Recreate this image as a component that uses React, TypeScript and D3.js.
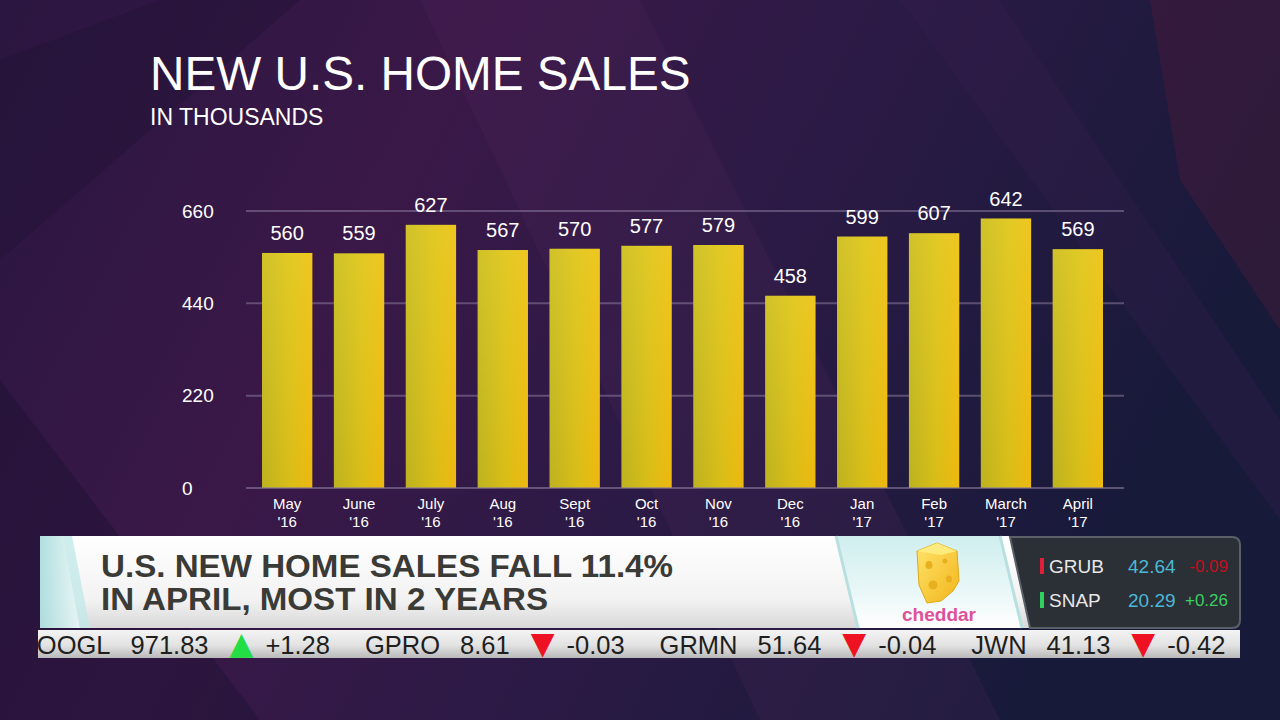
import React from 'react';
import * as d3 from 'd3';

// chart values
const months = ['May', 'June', 'July', 'Aug', 'Sept', 'Oct', 'Nov', 'Dec', 'Jan', 'Feb', 'March', 'April'];
const years = ["'16", "'16", "'16", "'16", "'16", "'16", "'16", "'16", "'17", "'17", "'17", "'17"];
const sales = [560, 559, 627, 567, 570, 577, 579, 458, 599, 607, 642, 569];
const yTicks = [0, 220, 440, 660];

// lower third
const headline = ['U.S. NEW HOME SALES FALL 11.4%', 'IN APRIL, MOST IN 2 YEARS'];
const headlineWidths = [572, 447];
const sideSymbols = ['GRUB', 'SNAP'];
const sidePrices = ['42.64', '20.29'];
const sideChanges = ['-0.09', '+0.26'];

// ticker crawl
const tickSymbols = ['GOOGL', 'GPRO', 'GRMN', 'JWN'];
const tickPrices = ['971.83', '8.61', '51.64', '41.13'];
const tickChanges = ['+1.28', '-0.03', '-0.04', '-0.42'];

const W = 1280;
const H = 720;
const FONT = '"Liberation Sans", Arial, Helvetica, sans-serif';

const App = () => {
    const x = d3.scaleBand<string>()
        .domain(months)
        .range([262, 1103])
        .paddingInner(0.3)
        .paddingOuter(0);

    const y = d3.scaleLinear()
        .domain([0, 660])
        .range([488, 211]);

    const gridLeft = 246;
    const gridRight = 1124;

    return (
        <div style={{ position: 'fixed', left: 0, top: 0, width: W, height: H, overflow: 'hidden' }}>
            <svg width={W} height={H} style={{ display: 'block' }}>
                <defs>
                    <linearGradient id="bg" x1="0" y1="0" x2="1" y2="0.3">
                        <stop offset="0%" stopColor="#2a1640" />
                        <stop offset="35%" stopColor="#3a1848" />
                        <stop offset="65%" stopColor="#2b1a45" />
                        <stop offset="100%" stopColor="#181a3a" />
                    </linearGradient>
                    <linearGradient id="barH" x1="0" y1="0" x2="1" y2="0">
                        <stop offset="0%" stopColor="#bdb21f" />
                        <stop offset="55%" stopColor="#d9bd17" />
                        <stop offset="100%" stopColor="#eeb80f" />
                    </linearGradient>
                    <linearGradient id="barV" x1="0" y1="0" x2="0" y2="1">
                        <stop offset="0%" stopColor="#f2e040" stopOpacity="0.35" />
                        <stop offset="100%" stopColor="#f2e040" stopOpacity="0" />
                    </linearGradient>
                    <linearGradient id="banner" x1="0" y1="0" x2="0" y2="1">
                        <stop offset="0%" stopColor="#ffffff" />
                        <stop offset="70%" stopColor="#f2f2f2" />
                        <stop offset="100%" stopColor="#d8d8d8" />
                    </linearGradient>
                    <linearGradient id="bevel" x1="0" y1="0" x2="1" y2="0">
                        <stop offset="0%" stopColor="#a9dcdc" />
                        <stop offset="100%" stopColor="#e8f6f6" />
                    </linearGradient>
                    <linearGradient id="logoPanel" x1="0" y1="0" x2="0" y2="1">
                        <stop offset="0%" stopColor="#cfeeee" />
                        <stop offset="60%" stopColor="#e9f7f7" />
                        <stop offset="100%" stopColor="#ffffff" />
                    </linearGradient>
                    <linearGradient id="ticker" x1="0" y1="0" x2="0" y2="1">
                        <stop offset="0%" stopColor="#f4f4f4" />
                        <stop offset="55%" stopColor="#e2e2e2" />
                        <stop offset="100%" stopColor="#b9b9b9" />
                    </linearGradient>
                    <linearGradient id="cheese" x1="0" y1="0" x2="1" y2="1">
                        <stop offset="0%" stopColor="#ffe46a" />
                        <stop offset="100%" stopColor="#f2b51c" />
                    </linearGradient>
                    <clipPath id="tickClip">
                        <rect x={38} y={630} width={1202} height={28} />
                    </clipPath>
                </defs>

                {/* background */}
                <rect x={0} y={0} width={W} height={H} fill="url(#bg)" />
                <polygon points="420,0 640,0 1000,720 760,720" fill="#5a2a60" opacity={0.18} />
                <polygon points="0,60 160,0 300,0 0,260" fill="#1e1030" opacity={0.35} />
                <polygon points="1150,0 1280,0 1280,330 1180,180" fill="#5a1c3a" opacity={0.35} />
                <polygon points="900,0 1000,0 1280,420 1280,520" fill="#3a2050" opacity={0.25} />
                <polygon points="0,380 0,720 260,720" fill="#1a1230" opacity={0.4} />

                {/* title */}
                <text x={150} y={90} fill="#ffffff" fontFamily={FONT} fontSize={47.7}>NEW U.S. HOME SALES</text>
                <text x={150} y={125} fill="#ffffff" fontFamily={FONT} fontSize={23}>IN THOUSANDS</text>

                {/* grid */}
                {yTicks.map(t => (
                    <g key={t}>
                        {t > 0 && (
                            <line x1={gridLeft} x2={gridRight} y1={y(t)} y2={y(t)}
                                stroke="#8a7a9a" strokeOpacity={0.55} strokeWidth={2} />
                        )}
                        <text x={182} y={y(t)} dy="0.35em" fill="#ffffff"
                            fontFamily={FONT} fontSize={19}>{t}</text>
                    </g>
                ))}

                {/* bars */}
                {months.map((m, i) => (
                    <g key={m}>
                        <rect x={x(m)} y={y(sales[i])} width={x.bandwidth()}
                            height={y(0) - y(sales[i])} fill="url(#barH)" />
                        <rect x={x(m)} y={y(sales[i])} width={x.bandwidth()}
                            height={y(0) - y(sales[i])} fill="url(#barV)" />
                        <text x={(x(m) || 0) + x.bandwidth() / 2} y={y(sales[i]) - 13}
                            textAnchor="middle" fill="#ffffff" fontFamily={FONT} fontSize={20}>{sales[i]}</text>
                        <text x={(x(m) || 0) + x.bandwidth() / 2} y={509}
                            textAnchor="middle" fill="#ffffff" fontFamily={FONT} fontSize={15}>{m}</text>
                        <text x={(x(m) || 0) + x.bandwidth() / 2} y={527}
                            textAnchor="middle" fill="#ffffff" fontFamily={FONT} fontSize={15}>{years[i]}</text>
                    </g>
                ))}
                <line x1={gridLeft} x2={gridRight} y1={y(0)} y2={y(0)}
                    stroke="#8a7a9a" strokeOpacity={0.6} strokeWidth={2} />

                {/* lower third banner */}
                <rect x={40} y={536} width={1000} height={92} fill="url(#banner)" />
                <polygon points="40,536 62,536 80,628 40,628" fill="url(#bevel)" opacity={0.9} />
                <polygon points="62,536 72,536 90,628 80,628" fill="#c4e8e8" opacity={0.8} />
                {headline.map((line, i) => (
                    <text key={line} x={101} y={577 + i * 33} fill="#3a3a37" fontFamily={FONT}
                        fontWeight="bold" fontSize={31} textLength={headlineWidths[i]}
                        lengthAdjust="spacingAndGlyphs">{line}</text>
                ))}

                {/* logo panel */}
                <polygon points="836,536 1000,536 1022,628 858,628" fill="url(#logoPanel)" />
                <line x1={836} y1={536} x2={858} y2={628} stroke="#b8e0e0" strokeWidth={3} />
                <line x1={1000} y1={536} x2={1022} y2={628} stroke="#b8e0e0" strokeWidth={3} />
                <g transform="translate(915,543)">
                    <path d="M2,8 L22,0 L42,8 L44,38 L38,48 L26,58 L12,60 L4,42 Z" fill="url(#cheese)" stroke="#e0a818" strokeWidth={1} />
                    <path d="M2,8 L22,0 L42,8 L26,12 Z" fill="#fff08a" opacity={0.8} />
                    <ellipse cx={14} cy={22} rx={3.5} ry={4} fill="#e8b020" />
                    <ellipse cx={30} cy={18} rx={2.5} ry={2.5} fill="#e8b020" />
                    <ellipse cx={18} cy={42} rx={4.5} ry={4.5} fill="#e8b020" />
                    <ellipse cx={34} cy={36} rx={3} ry={3.5} fill="#e8b020" />
                </g>
                <text x={939} y={621} textAnchor="middle" fill="#e0509a" fontFamily={FONT}
                    fontWeight="bold" fontSize={19}>cheddar</text>

                {/* quote panel */}
                <path d="M1010,537 L1232,537 Q1240,537 1240,545 L1240,620 Q1240,628 1232,628 L1030,628 Z"
                    fill="#2b2f36" stroke="#5a6068" strokeWidth={2} />
                {sideSymbols.map((s, i) => (
                    <g key={s} transform={`translate(0,${566 + i * 34})`}>
                        <rect x={1040} y={-8} width={4} height={16}
                            fill={sideChanges[i].startsWith('-') ? '#e0203a' : '#30d060'} />
                        <text x={1049} y={0} dy="0.35em" fill="#e8e8e8" fontFamily={FONT} fontSize={19}>{s}</text>
                        <text x={1128} y={0} dy="0.35em" fill="#4bb8d6" fontFamily={FONT} fontSize={19}>{sidePrices[i]}</text>
                        <text x={1228} y={0} dy="0.35em" textAnchor="end"
                            fill={sideChanges[i].startsWith('-') ? '#c0101e' : '#3ad060'}
                            fontFamily={FONT} fontSize={17}>{sideChanges[i]}</text>
                    </g>
                ))}

                {/* ticker */}
                <rect x={38} y={630} width={1202} height={28} fill="url(#ticker)" />
                <g clipPath="url(#tickClip)">
                    <text x={17} y={654} fill="#1e1e1e" fontFamily={FONT} fontSize={25.5}>
                        {tickSymbols.map((s, i) => {
                            const up = tickChanges[i].startsWith('+');
                            return (
                                <React.Fragment key={s}>
                                    <tspan dx={i === 0 ? 0 : 35}>{s}</tspan>
                                    <tspan dx={20}>{tickPrices[i]}</tspan>
                                    <tspan dx={21} fill={up ? '#22dd44' : '#ee1122'}
                                        fontFamily='"DejaVu Sans", sans-serif' fontSize={31}>{up ? '▲' : '▼'}</tspan>
                                    <tspan dx={12}>{tickChanges[i]}</tspan>
                                </React.Fragment>
                            );
                        })}
                    </text>
                </g>
            </svg>
        </div>
    );
};

export default App;
